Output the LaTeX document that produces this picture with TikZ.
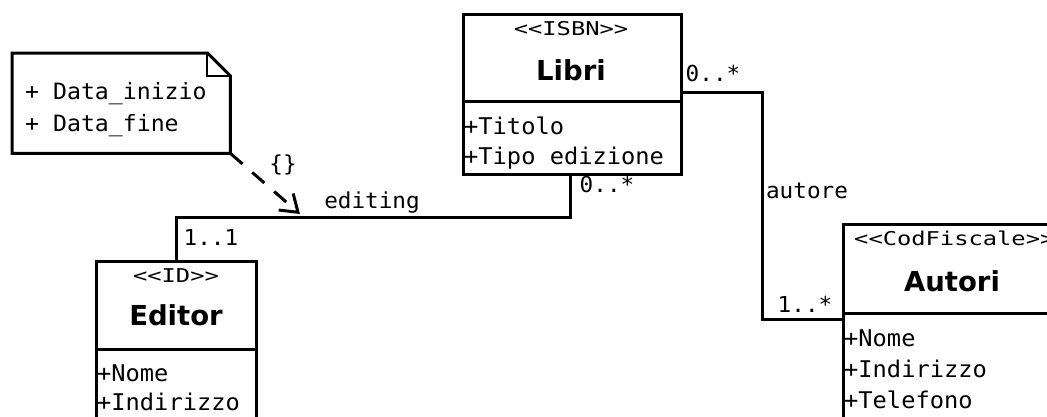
\documentclass[tikz,border=0pt]{standalone}
\usepackage{fontspec}
\setmainfont{DejaVu Sans}
\newfontfamily\monof[FakeStretch=1.03]{DejaVu Sans Mono}
\newfontfamily\stereof[FakeStretch=1.25]{DejaVu Sans Mono}
\usetikzlibrary{arrows.meta}
\tikzset{
  cbox/.style={draw, line width=3pt, inner sep=0pt, anchor=north west},
  conn/.style={line width=3pt, line join=miter},
  attr/.style={inner sep=0pt, anchor=west, font=\monof\fontsize{23}{27}\selectfont, text height=17pt, text depth=5pt},
  notetxt/.style={inner sep=0pt, anchor=west, font=\monof\fontsize{22.5}{27}\selectfont, text height=17pt, text depth=5pt},
  stereo/.style={inner sep=0pt, font=\stereof\fontsize{19}{23}\selectfont, text height=14pt, text depth=4pt},
  cname/.style={inner sep=0pt, font=\bfseries\fontsize{27.5}{32}\selectfont, text height=20pt, text depth=0pt},
  lbl/.style={inner sep=0pt, font=\monof\fontsize{22}{26}\selectfont, text height=16pt, text depth=5pt},
}
\begin{document}
\begin{tikzpicture}[x=1pt,y=-1pt]
\useasboundingbox (0,0) rectangle (1047,416);
\clip (0,0) rectangle (1047,416);
\fill[white] (0,0) rectangle (1047,416);

% Note
\node[inner sep=0pt, minimum width=218pt, minimum height=100pt, anchor=north west] (note) at (12,53) {};
\draw[line width=3pt, line join=miter] (note.north west) -- ([xshift=-23pt]note.north east) -- ([yshift=-23pt]note.north east) -- (note.south east) -- (note.south west) -- cycle;
\draw[line width=2pt] ([xshift=-23pt]note.north east) -- ([xshift=-23pt,yshift=-23pt]note.north east) -- ([yshift=-23pt]note.north east);
\node[notetxt] (n1) at (25,93) {+ Data\_inizio};
\node[notetxt] (n2) at (25,125) {+ Data\_fine};

% Libri
\node[cbox, minimum width=218pt, minimum height=87pt] (libriHead) at (462,13) {};
\node[cbox, minimum width=218pt, minimum height=73pt] (libriAttr) at (462,100) {};
\node[stereo] (libriSt) at (571,30) {<<ISBN>>};
\node[cname] (libriName) at (571,70) {Libri};
\node[attr] (l1) at (464,128) {+Titolo};
\node[attr] (l2) at (464,158) {+Tipo edizione};

% Editor
\node[cbox, minimum width=160pt, minimum height=88pt] (editorHead) at (95,260) {};
\node[cbox, minimum width=160pt, minimum height=90pt] (editorAttr) at (95,348) {};
\node[stereo] (editorSt) at (176,277) {<<ID>>};
\node[cname] (editorName) at (176,315) {Editor};
\node[attr] (e1t) at (97,375) {+Nome};
\node[attr] (e2t) at (97,404) {+Indirizzo};

% Autori
\node[cbox, minimum width=220pt, minimum height=89pt] (autoriHead) at (842,223) {};
\node[cbox, minimum width=220pt, minimum height=120pt] (autoriAttr) at (842,312) {};
\node[stereo, anchor=west] (autoriSt) at (854,240) {<<CodFiscale>>};
\node[cname] (autoriName) at (952,281) {Autori};
\node[attr] (a1t) at (844,340) {+Nome};
\node[attr] (a2t) at (844,371) {+Indirizzo};
\node[attr] (a3t) at (844,402) {+Telefono};

% Libri - Editor association
\coordinate (c1) at (570,217);
\coordinate (c2) at (176,217);
\draw[conn] (libriAttr.south -| c1) -- (c1) -- (c2) -- (editorHead.north -| c2);
\node[lbl] (m1) at (607,187) {0..*};
\node[lbl] (m2) at (372,203) {editing};
\node[lbl] (m3) at (211,240) {1..1};

% Libri - Autori association
\coordinate (d1) at (762,92);
\coordinate (d2) at (762,319);
\draw[conn] (libriHead.east |- d1) -- (d1) -- (d2) -- (autoriAttr.west |- d2);
\node[lbl] (m4) at (713,76) {0..*};
\node[lbl] (m5) at (807,193) {autore};
\node[lbl] (m6) at (805,307) {1..*};

% Note link
\coordinate (tip) at (300,214);
\draw[line width=3pt, dash pattern=on 16pt off 13pt, -{Straight Barb[length=16pt,width=22pt,line width=3pt]}] (note.south east) -- (tip);
\node[lbl] (m7) at (283,166) {\{\}};
\end{tikzpicture}
\end{document}
